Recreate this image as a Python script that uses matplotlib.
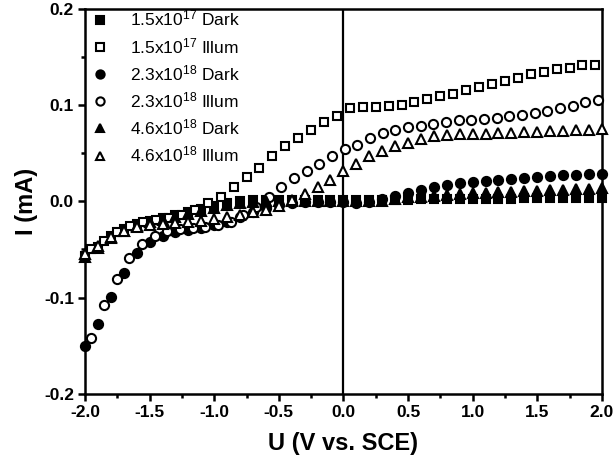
import numpy as np
import matplotlib
matplotlib.use("Agg")
import matplotlib.pyplot as plt

plt.rcParams["font.family"] = ["Liberation Sans", "DejaVu Sans"]
plt.rcParams["mathtext.fontset"] = "custom"
plt.rcParams["mathtext.rm"] = "Liberation Sans"
plt.rcParams["mathtext.it"] = "Liberation Sans:italic"
plt.rcParams["mathtext.bf"] = "Liberation Sans:bold"

# Potential grids (V vs. SCE)
u_dark = np.round(np.arange(-2.0, 2.0001, 0.1), 2)
u_illum_sq = np.round(np.arange(-1.95, 1.9501, 0.1), 2)
u_illum_ci = np.linspace(-1.95, 1.97, 41)
u_illum_tr = np.round(np.arange(-2.0, 2.0001, 0.1), 2)

# Current (mA)
i_17_dark = [-0.057, -0.047, -0.036, -0.029, -0.024, -0.020, -0.017, -0.014, -0.011, -0.008,
             -0.005, -0.002, 0.000, 0.001, 0.001, 0.001, 0.001, 0.001, 0.001, 0.001,
             0.001, 0.001, 0.001, 0.001, 0.001, 0.001, 0.002, 0.002, 0.002, 0.002,
             0.002, 0.002, 0.002, 0.002, 0.003, 0.003, 0.003, 0.003, 0.003, 0.003, 0.003]
i_17_illum = [-0.050, -0.041, -0.032, -0.026, -0.022, -0.019, -0.017, -0.014, -0.009, -0.002,
              0.005, 0.015, 0.025, 0.035, 0.047, 0.057, 0.066, 0.074, 0.082, 0.089,
              0.097, 0.098, 0.098, 0.099, 0.100, 0.103, 0.106, 0.109, 0.112, 0.116,
              0.119, 0.122, 0.125, 0.128, 0.132, 0.134, 0.137, 0.139, 0.142, 0.142]
i_23_dark = [-0.150, -0.127, -0.099, -0.074, -0.054, -0.042, -0.036, -0.032, -0.030, -0.028,
             -0.025, -0.021, -0.016, -0.011, -0.007, -0.004, -0.002, -0.001, -0.001, -0.001,
             -0.001, -0.002, -0.001, 0.002, 0.006, 0.009, 0.012, 0.015, 0.017, 0.019,
             0.020, 0.021, 0.022, 0.023, 0.024, 0.025, 0.026, 0.027, 0.027, 0.028, 0.028]
i_23_illum = [-0.142, -0.108, -0.081, -0.059, -0.044, -0.036, -0.031, -0.029, -0.028, -0.027,
              -0.025, -0.021, -0.014, -0.006, 0.004, 0.015, 0.024, 0.032, 0.039, 0.047,
              0.054, 0.059, 0.066, 0.071, 0.074, 0.077, 0.078, 0.080, 0.082, 0.084,
              0.085, 0.086, 0.087, 0.089, 0.090, 0.092, 0.094, 0.097, 0.099, 0.103, 0.105]
i_46_dark = [-0.058, -0.048, -0.038, -0.031, -0.026, -0.022, -0.019, -0.016, -0.013, -0.010,
             -0.007, -0.004, -0.002, -0.001, 0.000, 0.000, 0.000, 0.000, 0.000, 0.000,
             0.000, 0.000, 0.000, 0.000, 0.002, 0.004, 0.005, 0.006, 0.007, 0.008,
             0.009, 0.009, 0.010, 0.010, 0.011, 0.011, 0.012, 0.012, 0.013, 0.013, 0.014]
i_46_illum = [-0.055, -0.046, -0.037, -0.031, -0.027, -0.025, -0.024, -0.023, -0.022, -0.020,
              -0.018, -0.016, -0.014, -0.011, -0.009, -0.005, 0.001, 0.008, 0.015, 0.022,
              0.031, 0.039, 0.047, 0.052, 0.057, 0.061, 0.065, 0.068, 0.069, 0.070,
              0.070, 0.070, 0.071, 0.071, 0.072, 0.072, 0.073, 0.073, 0.074, 0.074, 0.075]

labels = [r"1.5x10$^{17}$ Dark", r"1.5x10$^{17}$ Illum",
          r"2.3x10$^{18}$ Dark", r"2.3x10$^{18}$ Illum",
          r"4.6x10$^{18}$ Dark", r"4.6x10$^{18}$ Illum"]

fig = plt.figure(figsize=(6.16, 4.66), dpi=100)
ax = fig.add_axes([0.138, 0.155, 0.839, 0.826])

ax.axvline(0, color="black", lw=1.6, zorder=1)

series = [
    (u_dark, i_17_dark, "s", "black", 5.8),
    (u_illum_sq, i_17_illum, "s", "white", 5.8),
    (u_dark, i_23_dark, "o", "black", 6.6),
    (u_illum_ci, i_23_illum, "o", "white", 6.6),
    (u_dark, i_46_dark, "^", "black", 7.0),
    (u_illum_tr, i_46_illum, "^", "white", 7.0),
]
for (u, i, m, fc, ms), lab in zip(series, labels):
    ax.plot(u, i, linestyle="none", marker=m, markersize=ms, markerfacecolor=fc,
            markeredgecolor="black", markeredgewidth=1.5, label=lab, zorder=3,
            clip_on=False)

ax.set_xlim(-2.0, 2.0)
ax.set_ylim(-0.2, 0.2)
ax.set_xticks(np.arange(-2.0, 2.01, 0.5))
ax.set_xticks(np.arange(-2.0, 2.01, 0.25), minor=True)
ax.set_yticks([-0.2, -0.1, 0.0, 0.1, 0.2])
ax.set_yticks([-0.15, -0.05, 0.05, 0.15], minor=True)
ax.set_xticklabels(["-2.0", "-1.5", "-1.0", "-0.5", "0.0", "0.5", "1.0", "1.5", "2.0"])
ax.set_yticklabels(["-0.2", "-0.1", "0.0", "0.1", "0.2"])

for s in ax.spines.values():
    s.set_linewidth(1.8)
ax.tick_params(which="major", direction="out", length=5, width=1.8,
               labelsize=12.5, pad=3)
ax.tick_params(which="minor", direction="out", length=3, width=1.8)
for lbl in ax.get_xticklabels() + ax.get_yticklabels():
    lbl.set_fontweight("bold")

ax.set_xlabel("U (V vs. SCE)", fontsize=17, fontweight="bold", labelpad=9)
ax.set_ylabel("I (mA)", fontsize=17, fontweight="bold", labelpad=4)

leg = ax.legend(loc="upper left", bbox_to_anchor=(0.012, 1.0), frameon=False,
                fontsize=12.5, handlelength=1.0, handletextpad=1.25,
                labelspacing=0.42, borderaxespad=0.0, borderpad=0.0,
                markerscale=0.9)

fig.savefig("out.png", dpi=100)
